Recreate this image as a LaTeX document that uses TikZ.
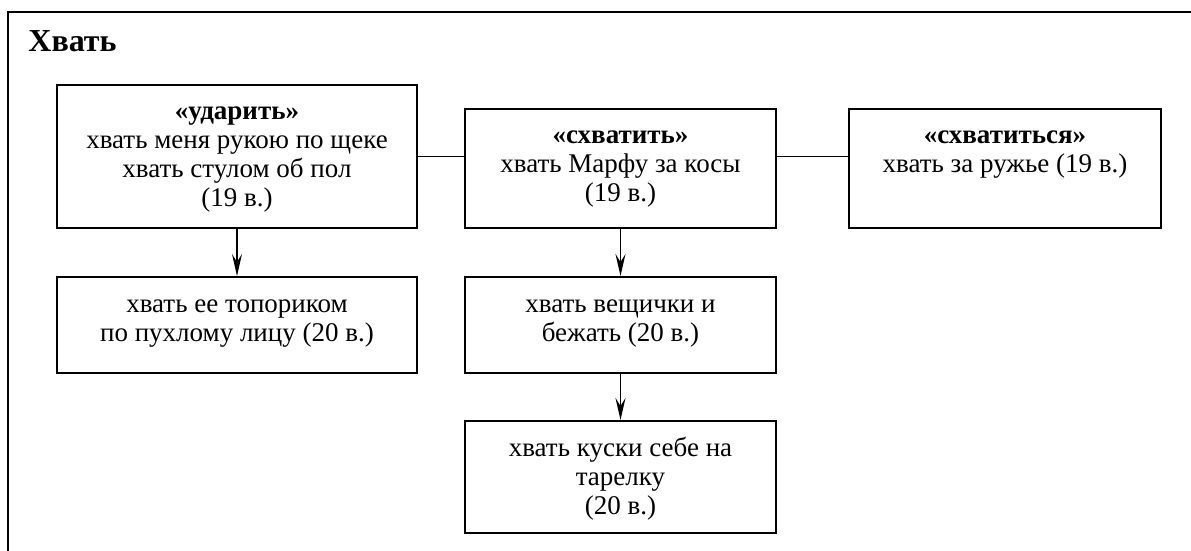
\documentclass[tikz,border=0pt]{standalone}
\usepackage{fontspec}
\setmainfont{Liberation Serif}
\usetikzlibrary{arrows.meta,calc}

% text of a box: width, height, lines (top aligned)
\newcommand{\boxtxt}[3]{\begin{minipage}[c][#2][t]{#1}\centering\rule{0pt}{17.5pt}#3\end{minipage}}

\begin{document}
\begin{tikzpicture}[x=0.5pt,y=-0.5pt,
  box/.style={draw, line width=1pt, inner sep=0pt, anchor=north west,
    font=\fontsize{13.5}{14.5}\selectfont},
  link/.style={line width=0.75pt},
  arr/.style={line width=0.75pt, -{Stealth[length=11pt,width=5pt,inset=4pt]}}]
  \useasboundingbox (0,0) rectangle (1191,551);

  % outer frame (cut off at right and bottom)
  \draw[line width=1pt] (8,551) -- (8,12) -- (1191,12);
  \node[anchor=base west, inner sep=0pt, font=\fontsize{16}{18}\selectfont\bfseries] (title) at (28,52) {Хвать};

  % first row
  \node[box] (udarit) at (56,84)
    {\boxtxt{180pt}{71.5pt}{\textbf{«ударить»}\\хвать меня рукою по щеке\\хвать стулом об пол\\(19 в.)}};
  \node[box] (shvatit) at (464,108)
    {\boxtxt{155.5pt}{59.5pt}{\textbf{«схватить»}\\хвать Марфу за косы\\(19 в.)}};
  \node[box] (shvatitsa) at (848,108)
    {\boxtxt{156pt}{59.5pt}{\textbf{«схватиться»}\\хвать за ружье (19 в.)}};

  % second and third rows
  \node[box] (toporik) at (56,276)
    {\boxtxt{180pt}{48pt}{хвать ее топориком\\по пухлому лицу (20 в.)}};
  \node[box] (veshchi) at (464,276)
    {\boxtxt{155.5pt}{48pt}{хвать вещички и\\бежать (20 в.)}};
  \node[box] (kuski) at (464,420)
    {\boxtxt{155.5pt}{56pt}{хвать куски себе на\\тарелку\\(20 в.)}};

  % connectors
  \draw[link] (udarit.east) -- (udarit.east -| shvatit.west);
  \draw[link] (udarit.east -| shvatit.east) -- (udarit.east -| shvatitsa.west);
  \draw[arr] (udarit.south) -- (toporik.north);
  \draw[arr] (shvatit.south) -- (veshchi.north);
  \draw[arr] (veshchi.south) -- (kuski.north);
\end{tikzpicture}
\end{document}
